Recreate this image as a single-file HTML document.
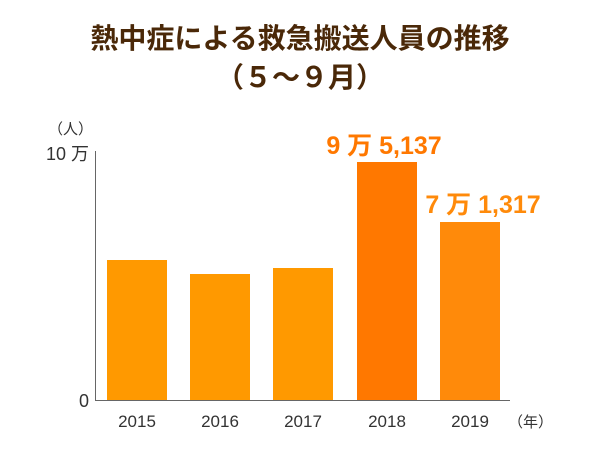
<!DOCTYPE html>
<html><head><meta charset="utf-8"><style>
body{margin:0;background:#fff;}
svg{display:block;}
</style></head><body>
<svg width="600" height="450" xmlns="http://www.w3.org/2000/svg" font-family="'Liberation Sans','Noto Sans CJK JP',sans-serif">
<text x="300" y="48" text-anchor="middle" font-size="28" font-weight="bold" fill="#4a2808">熱中症による救急搬送人員の推移</text>
<text x="300" y="87" text-anchor="middle" font-size="28" font-weight="bold" fill="#4a2808">（５～９月）</text>
<text x="93" y="134" text-anchor="end" font-size="15" fill="#333">（人）</text>
<text x="89" y="160" text-anchor="end" font-size="18" fill="#333">10 万</text>
<text x="89" y="407" text-anchor="end" font-size="18" fill="#333">0</text>
<line x1="95.5" y1="151" x2="95.5" y2="401" stroke="#666" stroke-width="1"/>
<rect x="107" y="260" width="60" height="140" fill="#ff9900"/>
<rect x="190" y="274" width="60" height="126" fill="#ff9900"/>
<rect x="273" y="268" width="60" height="132" fill="#ff9900"/>
<rect x="357" y="162" width="60" height="238" fill="#ff7800"/>
<rect x="440" y="222" width="60" height="178" fill="#ff8a0a"/>
<line x1="95" y1="400.5" x2="510" y2="400.5" stroke="#666" stroke-width="1"/>
<text x="384" y="154" text-anchor="middle" font-size="25" font-weight="bold" fill="#ff7800">9 万 5,137</text>
<text x="483" y="213" text-anchor="middle" font-size="25" font-weight="bold" fill="#ff8a0a">7 万 1,317</text>
<g font-size="17" fill="#333" text-anchor="middle">
<text x="137" y="427">2015</text>
<text x="220" y="427">2016</text>
<text x="303" y="427">2017</text>
<text x="387" y="427">2018</text>
<text x="470" y="427">2019</text>
</g>
<text x="508" y="427" font-size="15" fill="#333">（年）</text>
</svg>
</body></html>
